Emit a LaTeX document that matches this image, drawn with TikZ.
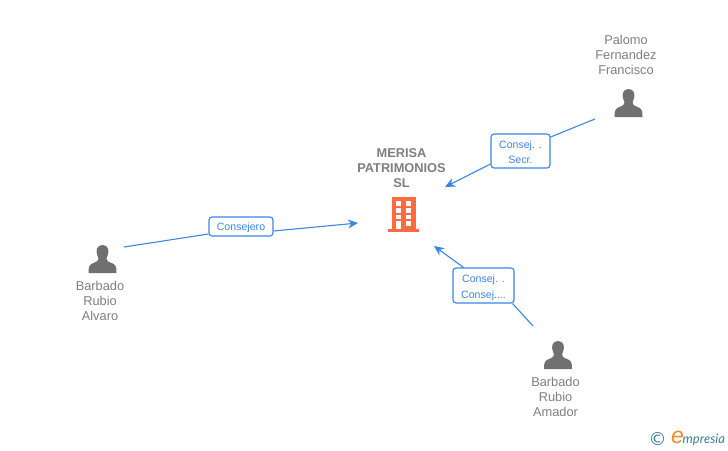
\documentclass[tikz,border=0pt]{standalone}
\usepackage{fontspec}
\setmainfont{Liberation Sans}
\newfontfamily\logofont{DejaVu Sans}
\newfontfamily\logoscript[Scale=1]{Lato}
\usetikzlibrary{arrows.meta}
\definecolor{linkblue}{HTML}{3A86E6}
\definecolor{greytext}{HTML}{7F7F7F}
\definecolor{icongrey}{HTML}{707070}
\definecolor{bldg}{HTML}{FF6B3D}
\definecolor{logoteal}{HTML}{3F7F93}
\definecolor{logoorange}{HTML}{F08A24}
\tikzset{
  x=1pt,y=-1pt,
  person/.style={font=\fontsize{12.8}{15}\selectfont,text=greytext,align=center,inner sep=0pt},
  company/.style={font=\fontsize{12.8}{15}\selectfont\bfseries,text=greytext,align=center,inner sep=0pt},
  rolebox/.style={draw=linkblue,line width=1.1pt,rounded corners=3pt,fill=white,text=linkblue,
    font=\fontsize{10.6}{15}\selectfont,align=center,inner sep=0pt},
  link/.style={draw=linkblue,line width=1.1pt},
  linkarrow/.style={link,-{Stealth[length=10pt,width=9pt]}},
  pics/usericon/.style={code={
    \fill[icongrey] (0,-14) .. controls (-6,-14) and (-6.5,-8) .. (-5.5,-5)
      .. controls (-5,-3) and (-4.5,-2) .. (-4,-0.5)
      .. controls (-4,2) and (-6,3) .. (-9,4)
      .. controls (-13,5.5) and (-14,7) .. (-14,14) -- (14,14)
      .. controls (14,7) and (13,5.5) .. (9,4)
      .. controls (6,3) and (4,2) .. (4,-0.5)
      .. controls (4.5,-2) and (5,-3) .. (5.5,-5)
      .. controls (6.5,-8) and (6,-14) .. (0,-14) -- cycle;
  }}
}
\begin{document}
\begin{tikzpicture}
\useasboundingbox (0,0) rectangle (728,450);
\fill[white] (0,0) rectangle (728,450);

% company
\node[company] (merisa) at (401.5,168.5) {MERISA\\PATRIMONIOS\\SL};
\fill[bldg] (392,197) rectangle (415.5,229);
\fill[bldg] (388,228.5) rectangle (419,231.5);
\fill[white] (396,201) rectangle (401,206);
\fill[white] (406,201) rectangle (411,206);
\fill[white] (396,208) rectangle (401,212.5);
\fill[white] (406,208) rectangle (411,212.5);
\fill[white] (396,215) rectangle (401,219);
\fill[white] (406,215) rectangle (411,219);
\fill[white] (396,221) rectangle (401,228.5);
\fill[white] (406,221) rectangle (411,226);
\coordinate (merisaA) at (445,187);
\coordinate (merisaB) at (358,223);
\coordinate (merisaC) at (434,246);

% people
\pic at (628.5,103) {usericon};
\node[person] (palomo) at (626,54.5) {Palomo\\Fernandez\\Francisco};
\pic at (102.5,259) {usericon};
\node[person] (alvaro) at (100,300.5) {Barbado\\Rubio\\Alvaro};
\pic at (558,355) {usericon};
\node[person] (amador) at (555.5,396.5) {Barbado\\Rubio\\Amador};
\coordinate (palomoOut) at (595,119);
\coordinate (alvaroOut) at (124,247);
\coordinate (amadorOut) at (533,326);

% role labels
\node[rolebox,minimum width=59pt,minimum height=34pt] (r1) at (520.5,151) {\rule{0pt}{10pt}Consej. .\\[0pt]Secr.};
\node[rolebox,minimum width=64pt,minimum height=19pt] (r2) at (241,226.5) {\rule{0pt}{10pt}Consejero};
\node[rolebox,minimum width=61pt,minimum height=35pt] (r3) at (483.5,285.5) {\rule{0pt}{12pt}Consej. .\\[0.5pt]Consej....};

% connectors
\draw[link] (palomoOut) -- ([yshift=14pt]r1.east);
\draw[linkarrow] ([yshift=-13pt]r1.west) -- (merisaA);
\draw[link] (alvaroOut) -- ([yshift=-7.5pt]r2.west);
\draw[linkarrow] ([yshift=-4.5pt]r2.east) -- (merisaB);
\draw[link] (amadorOut) -- ([xshift=-2pt]r3.south east);
\draw[linkarrow] ([xshift=-20pt]r3.north) -- (merisaC);

% logo
\node[inner sep=0pt,text=logoteal,font=\logofont\fontsize{18}{18}\selectfont] (copy) at (657.5,439) {©};
\node[inner sep=0pt,text=logoorange,font=\fontsize{23}{23}\selectfont\itshape] (e) at (677.5,437.5) {e};
\node[inner sep=0pt,text=logoteal,font=\logoscript\fontsize{13}{13}\selectfont\itshape,anchor=west] (mp) at (682.5,439.5) {mpresia};
\end{tikzpicture}
\end{document}
